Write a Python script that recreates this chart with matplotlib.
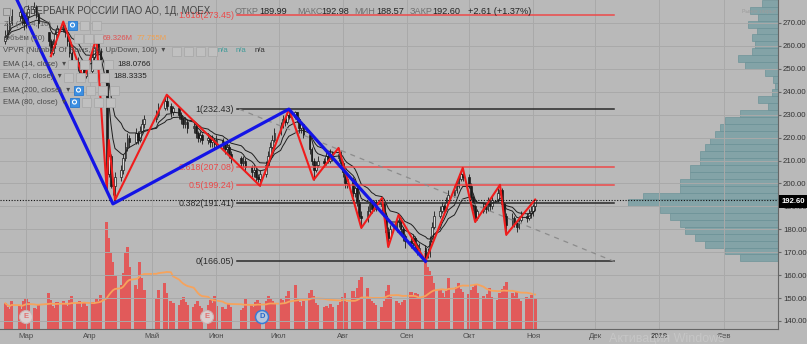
import numpy as np
import pandas as pd
import matplotlib
matplotlib.use('Agg')
import matplotlib.pyplot as plt
import matplotlib.dates as mdates
from matplotlib.patches import Rectangle, Circle
from matplotlib.transforms import IdentityTransform
from matplotlib.ticker import FuncFormatter

plt.rcParams['font.family'] = ['Liberation Sans', 'DejaVu Sans']

W, H = 807, 344
BG = '#b9b9b9'

# MOEX trading days, 2018
holidays = ['2018-02-23', '2018-03-08', '2018-03-09', '2018-04-30', '2018-05-01',
            '2018-05-02', '2018-05-09', '2018-06-11', '2018-06-12']
days = pd.bdate_range('2018-02-19', '2018-11-02', freq='C', holidays=holidays)

opens = [262, 264, 267, 270, 273, 275, 272,
         270, 273, 276, 277, 274, 266, 262, 257, 261, 265, 268, 268, 266, 262, 257, 253, 251, 248, 250, 247,
         249, 255, 259, 262, 258, 250, 204, 212, 199, 199, 203, 206, 211, 216, 220, 218, 222, 219, 223, 226,
         228, 230, 233, 236, 234, 231, 233, 230, 228, 226, 227, 224, 225, 222, 220, 221, 219, 220, 218, 219,
         217, 219, 217, 215, 216, 213, 211, 209, 210, 207, 205, 206, 203, 202, 204, 208, 212, 216, 219,
         222, 225, 228, 227, 230, 229, 231, 228, 224, 226, 221, 215, 210, 206, 208, 210, 209, 212, 210, 213, 211, 213,
         209, 205, 200, 202, 196, 198, 192, 186, 185, 188, 191, 189, 192, 190, 191, 186, 179, 176, 180, 183, 184, 180, 177,
         175, 174, 176, 173, 171, 172, 168, 170, 175, 181, 186, 188, 190, 189, 192, 195, 197, 199, 202, 204,
         203, 199, 194, 190, 185, 188, 190, 189, 192, 190, 193, 196, 197, 191, 186, 182, 185, 183, 181, 184, 186, 185, 187,
         188, 189.99]
highs = [267, 270, 273, 276, 278, 276, 273,
         275, 278, 279, 278, 275, 266, 263, 263, 267, 269, 270.6, 269, 267, 263, 258, 255, 252, 252, 251, 251,
         257, 261, 263.6, 263, 259, 251, 219, 213, 202, 205, 208, 213, 218, 222, 221, 224, 223, 225, 228, 230,
         232, 235, 237.5, 238.7, 235, 234, 234, 231, 229, 229, 228, 227, 226, 223, 223, 222, 222, 221, 221, 220,
         221, 220, 218, 218, 217, 214, 212, 212, 211, 208, 208, 207, 204, 206, 210, 214, 218, 221, 224,
         227, 230, 229, 231, 232.43, 231.5, 231, 229, 227, 226, 221, 216, 211, 210, 212, 211, 214, 213, 215, 214, 215.5, 214,
         210, 206, 203, 203, 199, 199, 193, 188, 190, 193, 192, 193, 193, 193.7, 192, 187, 181, 182, 185, 186.3, 185, 181, 178,
         177, 178, 177, 174, 174, 173, 172, 177, 183, 188, 190, 192, 191, 194, 197, 199, 201, 204, 206, 206.8,
         204, 200, 195, 191, 189, 192, 191, 194, 193, 195, 198, 199.4, 198, 192, 187, 187, 186, 184, 186, 188, 187, 189, 190,
         191, 192.98]
lows = [261, 263, 266, 269, 271, 269, 267,
        268, 271, 274, 272, 268, 260, 255.5, 256, 259, 264, 266, 264, 260, 255, 251, 249, 246, 246, 245.2, 246,
        248, 254, 258, 256, 252, 197.2, 203, 198, 195, 192.8, 201, 204, 210, 214, 216, 217, 217, 218, 222, 224,
        227, 229, 232, 232, 229, 230, 228, 226, 224, 224, 222, 222, 220, 218, 218, 217, 217, 216, 216, 215,
        216, 215, 213, 213, 211, 209, 207, 207, 205, 203, 203, 201, 200.5, 199, 203, 207, 211, 215, 218,
        221, 224, 225, 226, 228, 228, 227, 222, 222, 220, 213, 208, 201.6, 205, 207, 207, 208, 209, 209, 210, 210, 207,
        203, 198, 198, 194, 194, 190, 184, 180.6, 183, 187, 187, 188, 188, 188, 184, 177, 172.3, 175, 179, 181, 178, 175, 172,
        172, 172, 171, 169, 169, 166.05, 167.5, 168, 174, 180, 185, 187, 187, 188, 191, 194, 196, 198, 201, 201,
        198, 193, 188, 183.2, 184, 187, 187, 188, 188, 189, 192, 195, 190, 184, 177.6, 181, 181, 179, 180, 183, 183, 184, 185,
        186, 188.57]
closes = [264, 267, 270, 273, 275, 272, 270,
          273, 276, 277, 274, 270, 262, 257, 261, 265, 268, 268, 266, 262, 257, 253, 251, 248, 250, 247, 249,
          255, 259, 262, 258, 254, 204, 212, 199, 199, 203, 206, 211, 216, 220, 218, 222, 219, 223, 226, 228,
          230, 233, 236, 234, 231, 233, 230, 228, 226, 227, 224, 225, 222, 220, 221, 219, 220, 218, 219, 217,
          219, 217, 215, 216, 213, 211, 209, 210, 207, 205, 206, 203, 202, 204, 208, 212, 216, 219, 222,
          225, 228, 227, 230, 229, 231, 228, 224, 226, 221, 215, 210, 206, 208, 210, 209, 212, 210, 213, 211, 213, 209,
          205, 200, 202, 196, 198, 192, 186, 185, 188, 191, 189, 192, 190, 191, 186, 179, 176, 180, 183, 184, 180, 177, 175,
          174, 176, 173, 171, 172, 168, 170, 175, 181, 186, 188, 190, 189, 192, 195, 197, 199, 202, 204, 203,
          199, 194, 190, 185, 188, 190, 189, 192, 190, 193, 196, 197, 191, 186, 182, 185, 183, 181, 184, 186, 185, 187, 188,
          189.99, 192.60]
# volume, millions
volumes = [58, 50, 46, 62, 52, 44, 64,
           70, 60, 48, 46, 54, 80, 66, 52, 48, 60, 64, 56, 52, 66, 74, 58, 62, 50, 58, 52,
           60, 56, 70, 62, 76, 240, 205, 170, 150, 120, 100, 125, 170, 185, 140, 100, 90, 150, 115, 88,
           70, 88, 104, 80, 64, 58, 54, 66, 72, 60, 54, 50, 56, 62, 52, 48, 54, 66, 58, 74,
           52, 50, 46, 44, 56, 50, 42, 48, 68, 54, 50, 60, 66, 58, 64, 74, 68, 62, 58,
           70, 66, 56, 74, 86, 98, 68, 60, 52, 64, 80, 88, 74, 58, 54, 50, 52, 48, 56, 50, 54, 60,
           72, 80, 60, 86, 72, 92, 110, 118, 92, 70, 64, 58, 54, 50, 64, 86, 100, 72, 64, 58, 54, 60, 66,
           84, 74, 82, 78, 72, 175, 140, 130, 120, 104, 88, 80, 72, 86, 115, 82, 94, 104, 90, 84,
           78, 88, 94, 100, 82, 74, 70, 78, 92, 72, 66, 82, 90, 96, 105, 80, 74, 84, 68, 64, 72, 70, 76,
           68, 69.326]

zig_dates = ['2018-03-13', '2018-03-19', '2018-03-29', '2018-04-04', '2018-04-09', '2018-04-10',
             '2018-04-13', '2018-05-08', '2018-06-22', '2018-07-06', '2018-07-18', '2018-07-30',
             '2018-08-10', '2018-08-20', '2018-08-23', '2018-08-28', '2018-09-10', '2018-09-28',
             '2018-10-04', '2018-10-16', '2018-10-19', '2018-11-02']
zig_prices = [255.5, 270.6, 245.2, 263.6, 197.2, 219.0, 192.8, 238.7, 199.0, 232.43, 201.6, 215.5,
              180.6, 193.7, 172.3, 186.3, 166.05, 206.8, 183.2, 199.4, 177.6, 192.98]

blue_dates = ['2018-02-20', '2018-04-12', '2018-07-06', '2018-09-10']
blue_prices = [289.0, 191.1, 232.43, 166.05]

fib_names = ['1.618', '1', '0.618', '0.5', '0.382', '0']
fib_levels = [273.45, 232.43, 207.08, 199.24, 191.41, 166.05]
fib_red = [True, False, True, True, False, False]
fib_start, fib_end = '2018-06-11', '2018-12-10'

last_price = 192.60
ema14_last, ema7_last = 188.0766, 188.3335
vol_last, vol_ma_last = '69.326M', '77.755M'

# volume profile rows, bottom to top (166.05 .. 280)
vp_volume = [38, 53, 73, 83, 93, 98, 108, 118, 150, 135, 98, 98, 88, 88, 78, 78, 73, 68, 63,
             58, 53, 38, 10, 20, 6, 3, 5, 13, 33, 40, 26, 23, 26, 21, 30, 20, 28, 16]

month_ticks = ['2018-03-01', '2018-04-01', '2018-05-01', '2018-06-01', '2018-07-01', '2018-08-01',
               '2018-09-01', '2018-10-01', '2018-11-01', '2018-12-01', '2019-01-01', '2019-02-01']
month_labels = ['Мар', 'Апр', 'Май', 'Июн', 'Июл', 'Авг', 'Сен', 'Окт', 'Ноя', 'Дек', '2019', 'Фев']

##################################################################################
df = pd.DataFrame({'o': opens, 'h': highs, 'l': lows, 'c': closes, 'v': volumes}, index=days)
x = mdates.date2num(df.index)
ema7 = df['c'].ewm(span=7, adjust=False).mean()
ema14 = df['c'].ewm(span=14, adjust=False).mean()
vol_ma = df['v'].rolling(20, min_periods=1).mean()

def dnum(s):
    return mdates.date2num(pd.to_datetime(s))

def label(x0, y0, s, size=5.6, color='#4a4a4a', **kw):
    fig.text(x0 / W, 1 - y0 / H, s, fontsize=size, color=color, va='center', **kw)

def icon(x0, y0, blue=False):
    if blue:
        fig.add_artist(Rectangle((x0, H - y0 - 4.5), 9, 9, transform=IdentityTransform(),
                                 fc='#3b8fe2', ec='#2a78cc', lw=0.6))
        fig.add_artist(Circle((x0 + 4.5, H - y0), 2.0, transform=IdentityTransform(),
                              fc='none', ec='white', lw=0.8))
    else:
        fig.add_artist(Rectangle((x0, H - y0 - 4.5), 9, 9, transform=IdentityTransform(),
                                 fc='#c0c0c0', ec='#a9a9a9', lw=0.6))

fig = plt.figure(figsize=(W / 100, H / 100), dpi=100, facecolor=BG)
rect = [0, 15 / H, 778 / W, 329 / H]
ylo, yhi = 136.51, 280.03
xbase = dnum('2018-03-01')
xlo, xhi = xbase - 12.56, xbase + 363.3

# volume
axv = fig.add_axes(rect)
axv.set_xlim(xlo, xhi)
axv.set_ylim(0, 740)
axv.bar(x, df['v'], width=1.5, color='#e15a5a', lw=0)
axv.plot(x, vol_ma, color='#f6a35c', lw=1.3)
axv.axis('off')

# volume profile
axp = fig.add_axes(rect)
edges = np.linspace(166.05, 280.0, len(vp_volume) + 1)
axp.barh((edges[:-1] + edges[1:]) / 2, vp_volume, height=np.diff(edges), left=0,
         color='#7da1a6', edgecolor='#6a9196', lw=0.5, alpha=0.9)
axp.set_xlim(778, 0)
axp.set_ylim(ylo, yhi)
axp.axis('off')

# price
ax = fig.add_axes(rect)
ax.patch.set_visible(False)
ax.set_xlim(xlo, xhi)
ax.set_ylim(ylo, yhi)
ax.grid(color='#a9a9a9', lw=0.7)
ax.set_axisbelow(True)

up = df['c'].values >= df['o'].values
body_lo = np.minimum(df['o'].values, df['c'].values)
body_h = np.maximum(np.abs(df['c'].values - df['o'].values), 0.4)
ax.vlines(x, df['l'], df['h'], color='#1a1a1a', lw=0.6, zorder=3)
ax.bar(x[up], body_h[up], bottom=body_lo[up], width=0.8, color='#dadada', edgecolor='#1a1a1a', lw=0.5, zorder=4)
ax.bar(x[~up], body_h[~up], bottom=body_lo[~up], width=0.8, color='#1a1a1a', edgecolor='#1a1a1a', lw=0.5, zorder=4)
ax.plot(x, ema7, color='#1e1e1e', lw=0.7, zorder=5)
ax.plot(x, ema14, color='#1e1e1e', lw=0.7, zorder=5)

# fibonacci retracement
fs, fe = dnum(fib_start), dnum(fib_end)
for name, lev, red in zip(fib_names, fib_levels, fib_red):
    col = '#ec4a4a' if red else '#2a2a2a'
    ax.plot([fs, fe], [lev, lev], color=col, lw=1.1, zorder=5)
    ax.text(fs - 1.4, lev, name + '(' + format(lev, '.2f') + ')', color=col, fontsize=6.4,
            ha='right', va='center', zorder=6)
ax.plot([fs + 1, fe], [fib_levels[1], fib_levels[-1]], color='#8c8c8c', lw=0.9, ls=(0, (4, 4)), zorder=5)

ax.plot(dnum(zig_dates), zig_prices, color='#f01c1c', lw=1.5, zorder=6)
ax.plot(dnum(blue_dates), blue_prices, color='#1414e6', lw=2.3, zorder=7)
ax.axhline(last_price, color='#111111', lw=0.8, ls=(0, (1, 1.5)), zorder=6)

ax.yaxis.tick_right()
ax.set_yticks(np.arange(140, 271, 10))
ax.yaxis.set_major_formatter(FuncFormatter(lambda v, p: format(v, '.2f')))
ax.set_xticks(dnum(month_ticks))
ax.set_xticklabels(month_labels)
for t in ax.get_xticklabels():
    if t.get_text() == '2019':
        t.set_fontweight('bold')
        t.set_color('#333333')
ax.tick_params(axis='y', length=2, pad=1.5, labelsize=5.6, labelcolor='#333333', color='#666666')
ax.tick_params(axis='x', length=0, pad=3, labelsize=5.6, labelcolor='#4a4a4a')
for s in ['top', 'left']:
    ax.spines[s].set_visible(False)
for s in ['right', 'bottom']:
    ax.spines[s].set_color('#666666')
    ax.spines[s].set_linewidth(0.8)

# last price tag
fig.add_artist(Rectangle((779, H - 208), 28, 13, transform=IdentityTransform(), fc='black', ec='none'))
label(793, 201.5, format(last_price, '.2f'), size=5.6, color='white', ha='center', fontweight='bold')

# legend
fig.add_artist(Rectangle((3, H - 15), 7, 7, transform=IdentityTransform(), fc='none', ec='#888888', lw=0.6))
label(23, 11, 'СБЕРБАНК РОССИИ ПАО АО, 1Д, MOEX', size=7.0, color='#444444')
ohlc = [('ОТКР', 235), ('189.99', 259), ('МАКС', 297), ('192.98', 321), ('МИН', 354), ('188.57', 376),
        ('ЗАКР', 410), ('192.60', 432), ('+2.61 (+1.37%)', 468)]
for i, (s, xx) in enumerate(ohlc):
    label(xx, 11, s, size=6.6, color='#707070' if i % 2 == 0 and i < 8 else '#222222')

label(4, 25, 'ZZ (7, 14, 10)', color='#606060')
icon(68, 25, blue=True); icon(80, 25); icon(92, 25)
label(4, 38, 'Объём (20)', color='#555555')
icon(74, 38); icon(84, 38); icon(94, 38)
label(103, 38, vol_last, color='#e25050')
label(137, 38, vol_ma_last, color='#f0a050')
label(3, 51, 'VPVR (Number Of Rows, 24, Up/Down, 100)  ▾')
icon(172, 51); icon(184, 51); icon(196, 51); icon(208, 51)
label(218, 51, 'n/a', color='#3f9a98')
label(236, 51, 'n/a', color='#3f9a98')
label(255, 51, 'n/a', color='#333333')
label(3, 64, 'EMA (14, close)  ▾')
icon(68, 64); icon(80, 64); icon(92, 64); icon(104, 64)
label(117, 64, format(ema14_last, '.4f'), size=5.8, color='#222222')
label(3, 77, 'EMA (7, close)  ▾')
icon(64, 77); icon(76, 77); icon(88, 77); icon(100, 77)
label(113, 77, format(ema7_last, '.4f'), size=5.8, color='#222222')
label(3, 90, 'EMA (200, close)  ▾')
icon(74, 90, blue=True); icon(86, 90); icon(98, 90); icon(110, 90)
label(3, 102, 'EMA (80, close)  ▾')
icon(70, 102, blue=True); icon(82, 102); icon(94, 102); icon(106, 102)

# E / D markers
for xx, s in [(26, 'E'), (207, 'E'), (262, 'D')]:
    if s == 'E':
        fig.add_artist(Circle((xx, H - 317), 6.5, transform=IdentityTransform(), fc='#d9cfcf', ec='#cbb3b3', lw=0.8))
        label(xx, 317, s, size=5.5, color='#e07070', ha='center', fontweight='bold')
    else:
        fig.add_artist(Circle((xx, H - 317), 6.5, transform=IdentityTransform(), fc='#b3c5dc', ec='#3a7bd5', lw=1.1))
        label(xx, 317, s, size=5.5, color='#2a68cc', ha='center', fontweight='bold')

label(742, 11, 'Рынок закрыт', size=3.8, color='#9c9c9c')
label(609, 339, 'Активация Windows', size=9, color='#c6c6c6')

fig.savefig('out.png', dpi=100, facecolor=BG)
